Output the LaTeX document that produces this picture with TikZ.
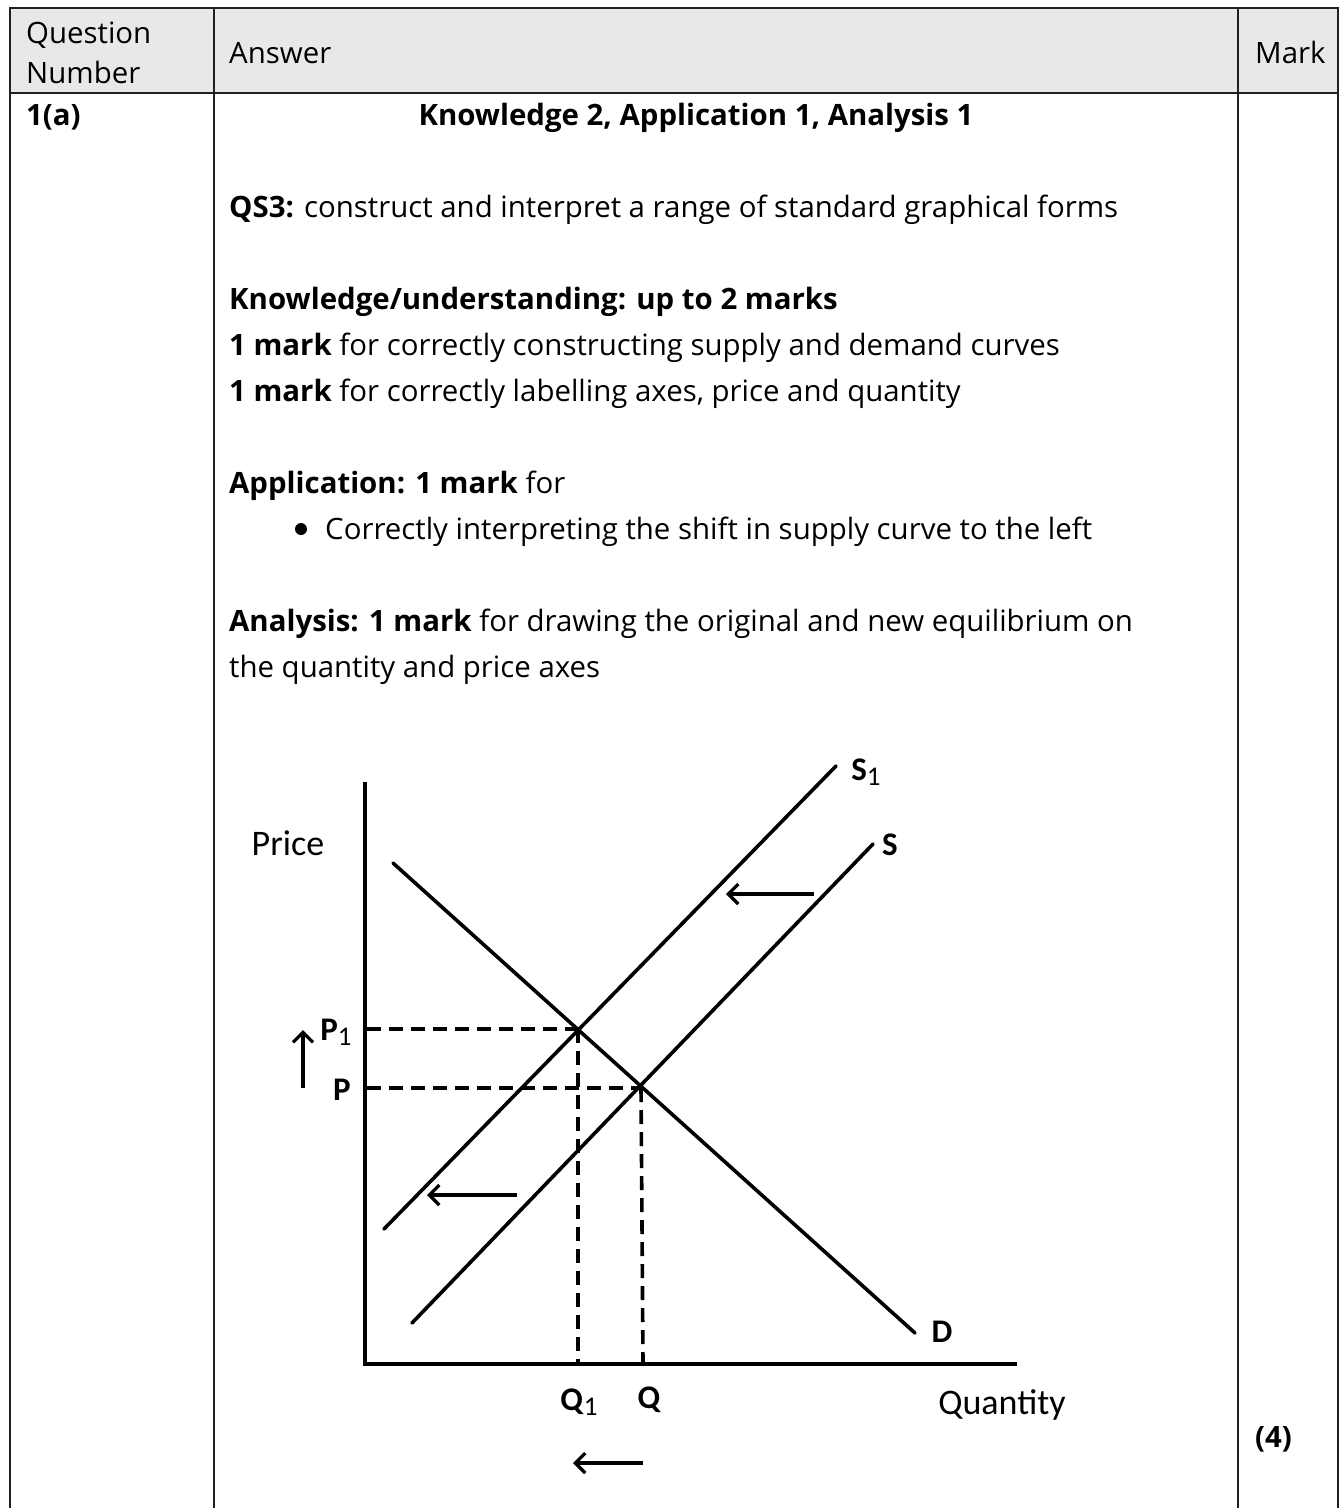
\documentclass[tikz,border=0pt]{standalone}
\usepackage{fontspec}
\setmainfont{Open Sans}
\newfontfamily\graphfont{Carlito}
\usetikzlibrary{arrows.meta}
\definecolor{hdr}{HTML}{E7E8E9}
\definecolor{rulec}{HTML}{231F20}
\begin{document}
\begin{tikzpicture}[x=1pt,y=-1pt,
  txt/.style={anchor=base west, inner sep=0pt, font=\fontsize{29.4}{34}\selectfont},
  btxt/.style={txt, font=\fontsize{29.4}{34}\selectfont\bfseries},
  rulel/.style={draw=rulec, line width=2.4pt},
  curve/.style={line width=3.6pt, line cap=round},
  dashline/.style={line width=3.6pt, dash pattern=on 14pt off 8pt},
  shiftarrow/.style={line width=3.2pt, -{Straight Barb[length=10pt,width=20pt,line width=3.2pt]}},
  glab/.style={inner sep=0pt, font=\graphfont\fontsize{36}{36}\selectfont},
  gblab/.style={inner sep=0pt, font=\graphfont\fontsize{33}{33}\selectfont\bfseries},
  subl/.style={}]
\useasboundingbox (0,0) rectangle (1340,1508);
% table
\fill[hdr] (10,8) rectangle (1338,93);
\draw[rulel] (10,8) -- (1338,8);
\draw[rulel] (10,93) -- (1338,93);
\draw[rulel] (10,7) -- (10,1508);
\draw[rulel] (214,7) -- (214,1508);
\draw[rulel] (1238,7) -- (1238,1508);
\draw[rulel] (1338,7) -- (1338,1508);
% header texts
\node[txt] (hq1) at (26,43) {Question};
\node[txt] (hq2) at (26,83) {Number};
\node[txt] (hans) at (229,63) {Answer};
\node[txt] (hmark) at (1255,63) {Mark};
% row texts
\node[btxt] (qn) at (26,125) {1(a)};
\node[btxt, anchor=base] (kaa) at (696,125) {Knowledge 2, Application 1, Analysis 1};
\node[txt] (qs3) at (229,217) {\textbf{QS3:} construct and interpret a range of standard graphical forms};
\node[txt] (ku) at (229,309) {\textbf{Knowledge/understanding: up to 2 marks}};
\node[txt] (m1) at (229,355) {\textbf{1 mark} for correctly constructing supply and demand curves};
\node[txt] (m2) at (229,401) {\textbf{1 mark} for correctly labelling axes, price and quantity};
\node[txt] (app) at (229,493) {\textbf{Application: 1 mark} for};
\node[circle, fill=black, inner sep=0pt, minimum size=12pt] (bul) at (301,529) {};
\node[txt] (appb) at (325,539) {Correctly interpreting the shift in supply curve to the left};
\node[txt] (an1) at (229,631) {\textbf{Analysis: 1 mark} for drawing the original and new equilibrium on};
\node[txt] (an2) at (229,677) {the quantity and price axes};
\node[btxt] (four) at (1255,1447) {(4)};
% graph coordinates
\coordinate (ytop) at (365,782);
\coordinate (O) at (365,1364);
\coordinate (xend) at (1017,1364);
\coordinate (d0) at (393,863);
\coordinate (d1) at (915,1333);
\coordinate (sa0) at (384,1229);
\coordinate (sa1) at (836,766);
\coordinate (sb0) at (412,1323);
\coordinate (sb1) at (873,844);
\coordinate (e1) at (578,1029);
\coordinate (e0) at (641,1088);
\coordinate (p1ax) at (367,1029);
\coordinate (p0ax) at (367,1088);
\coordinate (q1ax) at (578,1362);
\coordinate (q0ax) at (643,1362);
% dashed guides
\draw[dashline] (p1ax) -- (e1);
\draw[dashline] (p0ax) -- (e0);
\draw[dashline] (e1) -- (q1ax);
\draw[dashline] (e0) -- (q0ax);
% axes
\draw[line width=3.6pt] (ytop) -- (O) -- (xend);
% curves
\draw[curve] (d0) -- (d1);
\draw[curve] (sa0) -- (sa1);
\draw[curve] (sb0) -- (sb1);
% shift arrows
\coordinate (ua0) at (814,894); \coordinate (ua1) at (726,894);
\coordinate (la0) at (517,1195); \coordinate (la1) at (427,1195);
\coordinate (ba0) at (643,1463); \coordinate (ba1) at (573,1463);
\coordinate (va0) at (303,1088); \coordinate (va1) at (303,1030);
\draw[shiftarrow] (ua0) -- (ua1);
\draw[shiftarrow] (la0) -- (la1);
\draw[shiftarrow] (ba0) -- (ba1);
\draw[shiftarrow] (va0) -- (va1);
% graph labels
\node[glab] (price) at (288,843) {Price};
\node[glab] (qty) at (1002,1405) {Quantity};
\node[gblab] (ls1) at (866,772) {S\textmd{\fontsize{27}{27}\selectfont\raisebox{-0.4ex}{1}}};
\node[gblab] (ls) at (890,845) {S};
\node[gblab] (lp1) at (336,1032) {P\textmd{\fontsize{27}{27}\selectfont\raisebox{-0.4ex}{1}}};
\node[gblab] (lp) at (342,1090) {P};
\node[gblab] (lq1) at (579,1402) {Q\textmd{\fontsize{27}{27}\selectfont\raisebox{-0.4ex}{1}}};
\node[gblab] (lq) at (649,1400) {Q};
\node[gblab] (ld) at (942,1332) {D};
\end{tikzpicture}
\end{document}
